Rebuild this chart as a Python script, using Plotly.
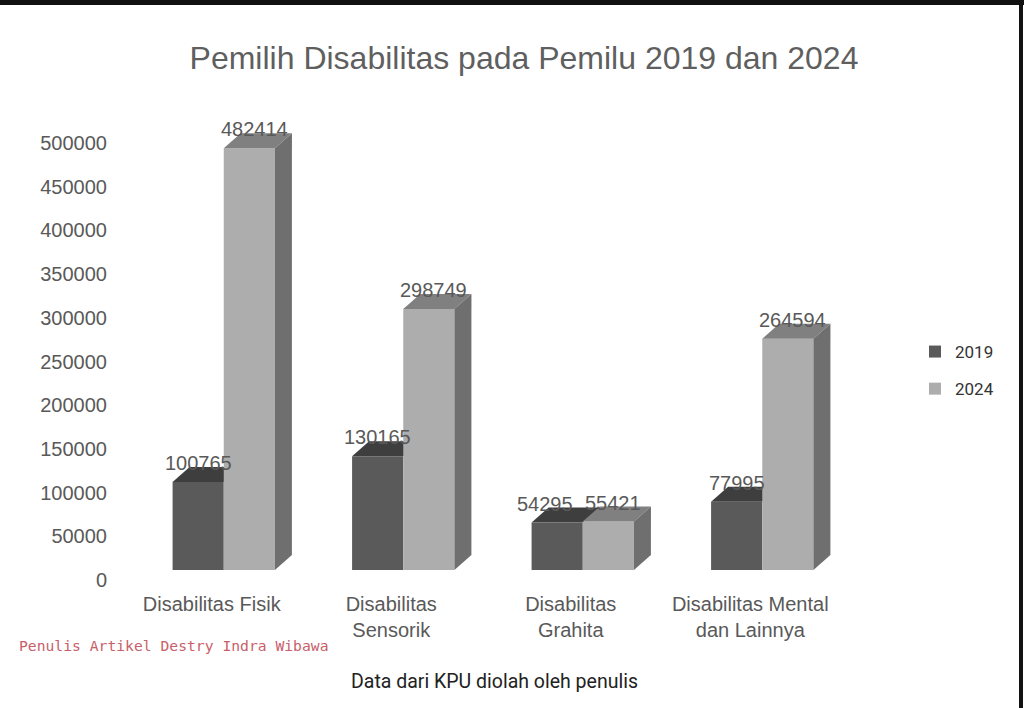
import plotly.graph_objects as go

# ---- data ----
categories = ["Disabilitas Fisik", "Disabilitas<br>Sensorik", "Disabilitas<br>Grahita",
              "Disabilitas Mental<br>dan Lainnya"]
series_names = ["2019", "2024"]
values_2019 = [100765, 130165, 54295, 77995]
values_2024 = [482414, 298749, 55421, 264594]
y_ticks = [0, 50000, 100000, 150000, 200000, 250000, 300000, 350000, 400000, 450000, 500000]

# ---- layout constants ----
W, H = 1024, 708
L, R, T, B = 134, 172, 100, 118
plot_w = W - L - R
plot_h = H - T - B
units_per_px = 500000 / 437.0           # value scale
base_px = 570                            # pixel row of front-face floor
tick0_px = 580                           # pixel row of tick "0"
bottom_px = H - B
top_px = T
y_range = [-(bottom_px - base_px) * units_per_px, (base_px - top_px) * units_per_px]
y2_range = [-(bottom_px - tick0_px) * units_per_px, (tick0_px - top_px) * units_per_px]

bargap = 0.43
bar_w = (1 - bargap) / 2
depth_dx = 17 / (plot_w / len(categories))
depth_dy = 15 * units_per_px
label_h = 22 * units_per_px

c19_front, c19_top = "#5a5a5a", "#3e3e3e"
c24_front, c24_top, c24_side = "#adadad", "#808080", "#6f6f6f"
txt = "#595959"
font_main = "Liberation Sans, Arial, sans-serif"

fig = go.Figure()
fig.add_trace(go.Bar(x=categories, y=values_2019, name=series_names[0],
                     marker=dict(color=c19_front, line=dict(width=0)),
                     legendgroup="a", hoverinfo="skip"))
fig.add_trace(go.Bar(x=categories, y=values_2024, name=series_names[1],
                     marker=dict(color=c24_front, line=dict(width=0)),
                     legendgroup="b", hoverinfo="skip"))
# invisible trace to carry the tick axis
fig.add_trace(go.Scatter(x=[categories[0]], y=[0], yaxis="y2", mode="markers",
                         marker=dict(opacity=0), showlegend=False, hoverinfo="skip"))

shapes = []
annotations = []
for i, (v19, v24) in enumerate(zip(values_2019, values_2024)):
    # 2019 bar top face (behind the 2024 front face)
    x0, x1 = i - bar_w, i
    shapes.append(dict(type="path", layer="below", xref="x", yref="y",
                       path=f"M{x0},{v19} L{x1},{v19} L{x1+depth_dx},{v19+depth_dy} L{x0+depth_dx},{v19+depth_dy} Z",
                       fillcolor=c19_top, line=dict(width=0)))
    # 2024 top and side faces
    x0, x1 = i, i + bar_w
    shapes.append(dict(type="path", layer="above", xref="x", yref="y",
                       path=f"M{x0},{v24} L{x1},{v24} L{x1+depth_dx},{v24+depth_dy} L{x0+depth_dx},{v24+depth_dy} Z",
                       fillcolor=c24_top, line=dict(width=0)))
    shapes.append(dict(type="path", layer="above", xref="x", yref="y",
                       path=f"M{x1},0 L{x1},{v24} L{x1+depth_dx},{v24+depth_dy} L{x1+depth_dx},{depth_dy} Z",
                       fillcolor=c24_side, line=dict(width=0)))
    # data labels (pushed apart when they would collide)
    close = abs(v24 - v19) < label_h
    annotations.append(dict(x=i - bar_w / 2, y=v19, xref="x", yref="y", text=str(v19),
                            showarrow=False, yanchor="bottom", yshift=6,
                            xshift=-12 if close else 0,
                            font=dict(family=font_main, size=20, color=txt)))
    annotations.append(dict(x=i + bar_w / 2, y=v24, xref="x", yref="y", text=str(v24),
                            showarrow=False, yanchor="bottom", yshift=6, xshift=5,
                            font=dict(family=font_main, size=20, color=txt)))

# frame from the screenshot (black top band, right edge line)
def px_x(px):
    return (px - L) / plot_w

def px_y(py):
    return (bottom_px - py) / plot_h

shapes.append(dict(type="rect", xref="paper", yref="paper", x0=px_x(0), x1=px_x(W),
                   y0=px_y(5), y1=px_y(0), fillcolor="#111111", line=dict(width=0), layer="above"))
shapes.append(dict(type="rect", xref="paper", yref="paper", x0=px_x(1019), x1=px_x(1023),
                   y0=px_y(H), y1=px_y(0), fillcolor="#111111", line=dict(width=0), layer="above"))

annotations.append(dict(text="Data dari KPU diolah oleh penulis", xref="paper", yref="paper",
                        x=px_x(494), y=px_y(681), xanchor="center", yanchor="middle",
                        showarrow=False,
                        font=dict(family="Roboto, sans-serif", size=19.5, color="#222222")))
annotations.append(dict(text="Penulis Artikel Destry Indra Wibawa", xref="paper", yref="paper",
                        x=px_x(17), y=px_y(645), xanchor="left", yanchor="middle",
                        showarrow=False,
                        font=dict(family="DejaVu Sans Mono, monospace", size=14.7, color="#c8606a")))

fig.update_layout(
    width=W, height=H,
    margin=dict(l=L, r=R, t=T, b=B),
    paper_bgcolor="white", plot_bgcolor="white",
    barmode="group", bargap=bargap, bargroupgap=0,
    title=dict(text="Pemilih Disabilitas pada Pemilu 2019 dan 2024",
               x=524 / W, xref="container", xanchor="center",
               y=1 - 58 / H, yref="container", yanchor="middle",
               font=dict(family=font_main, size=32, color="#5f5f5f")),
    xaxis=dict(type="category", showgrid=False, zeroline=False, showline=False,
               ticks="", tickfont=dict(family=font_main, size=20, color=txt),
               ticklabelshift=-12),
    yaxis=dict(range=y_range, visible=False, showgrid=False, zeroline=False),
    yaxis2=dict(range=y2_range, overlaying="y", side="left", tickvals=y_ticks,
                tickformat="d", showgrid=False, zeroline=False, showline=False, ticks="",
                ticklabelstandoff=26,
                tickfont=dict(family=font_main, size=20, color=txt)),
    legend=dict(xref="container", yref="container", x=915 / W, y=1 - 334 / H,
                xanchor="left", yanchor="top", tracegroupgap=12,
                font=dict(family="Roboto, sans-serif", size=17, color="#333333"),
                bgcolor="rgba(0,0,0,0)"),
    shapes=shapes, annotations=annotations,
)

fig.write_html("out.html")
